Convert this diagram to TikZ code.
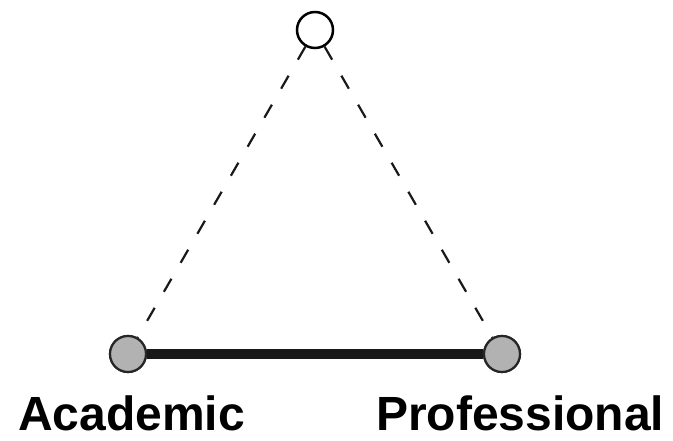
\documentclass[tikz,border=0pt]{standalone}
\usepackage{fontspec}
\setmainfont{Liberation Sans}
\begin{document}
\begin{tikzpicture}[x=1pt,y=-1pt,
  topnode/.style={circle,draw=black,fill=white,line width=2.5pt,minimum size=36pt,inner sep=0pt},
  endnode/.style={circle,draw=black!85,fill=black!30,line width=2.2pt,minimum size=36pt,inner sep=0pt},
  dashline/.style={dash pattern=on 15pt off 18.5pt,line width=2.2pt,black!90},
  label/.style={font=\fontsize{48}{48}\selectfont\bfseries,inner sep=0pt,anchor=base west}]
\useasboundingbox (0,0) rectangle (673,441);
\node[topnode] (t) at (315,30) {};
\node[endnode] (a) at (128,354) {};
\node[endnode] (p) at (502,354) {};
\draw[dashline] (t) -- (a);
\draw[dashline] (t) -- (p);
\draw[line width=9.5pt,black!90] (a) -- (p);
\node[endnode] at (a) {};
\node[endnode] at (p) {};
\node[label] (la) at (18,430) {Academic};
\node[label] (lp) at (376,430) {Professional};
\end{tikzpicture}
\end{document}
